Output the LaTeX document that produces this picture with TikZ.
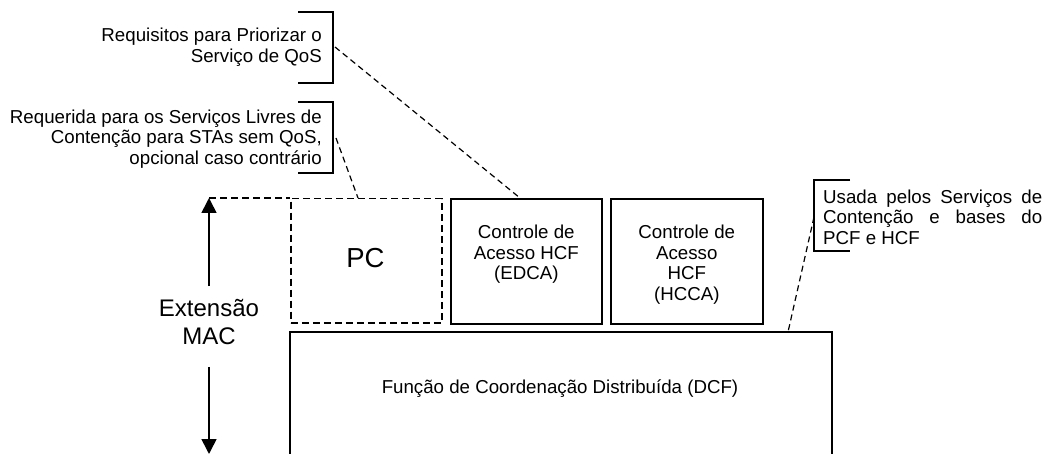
\documentclass[tikz,border=0pt]{standalone}
\usepackage{fontspec}
\setmainfont{Liberation Sans}
\usetikzlibrary{arrows.meta}
\begin{document}
\begin{tikzpicture}[x=1pt,y=-1pt,
  small/.style={font=\fontsize{18.7}{20.5}\selectfont, inner sep=0pt},
  solidbox/.style={draw, line width=1.6pt, inner sep=0pt, anchor=north west},
  dashbox/.style={draw, line width=1.5pt, dash pattern=on 7pt off 4pt, inner sep=0pt, anchor=north west},
  conn/.style={line width=1.2pt, dash pattern=on 6pt off 4pt},
  brk/.style={line width=1.6pt},
  arr/.style={line width=1.6pt, -{Triangle[width=15pt,length=15pt]}}]
\useasboundingbox (0,0) rectangle (1044,454);

% boxes
\node[dashbox, minimum width=151pt, minimum height=124pt] (pc) at (290,198) {};
\node[font=\fontsize{27.5}{30}\selectfont, inner sep=0pt] (pct) at (365.5,258) {PC};
\node[solidbox, minimum width=151pt, minimum height=125pt] (edca) at (450,198) {};
\node[solidbox, minimum width=152pt, minimum height=125pt] (hcca) at (610,198) {};
\node[small, align=center, anchor=north] (edcat) at ([yshift=-27pt]edca.north) {Controle de\\Acesso HCF\\(EDCA)};
\node[small, align=center, anchor=north] (hccat) at ([yshift=-27pt]hcca.north) {Controle de\\Acesso\\HCF\\(HCCA)};

% DCF box (open at the bottom)
\coordinate (dcfbl) at (290,454);
\coordinate (dcftl) at (290,332);
\coordinate (dcftr) at (832,332);
\coordinate (dcfbr) at (832,454);
\draw[line width=1.6pt] (dcfbl) -- (dcftl) -- (dcftr) -- (dcfbr);
\node[small] (dcft) at (560,389) {Função de Coordenação Distribuída (DCF)};

% Extensao MAC arrow
\coordinate (arrtop) at (209,198);
\coordinate (arrbot) at (209,454);
\node[font=\fontsize{24}{28}\selectfont, inner sep=0pt, align=center] (ext) at (209,322) {Extensão\\MAC};
\draw[arr] ([yshift=13pt]ext.north) -- (arrtop);
\draw[arr] ([yshift=-22pt]ext.south) -- (arrbot);
\draw[line width=1.5pt, dash pattern=on 7pt off 4pt] (arrtop) -- (pc.north west);

% bracket 1
\draw[brk] (298,12) -- (333,12) -- (333,83) -- (298,83);
\node[small, align=right, anchor=east] (req) at (322,47) {Requisitos para Priorizar o\\Serviço de QoS};
% bracket 2
\draw[brk] (298,102) -- (333,102) -- (333,173) -- (298,173);
\node[small, align=right, anchor=east] (reqd) at (322,139) {Requerida para os Serviços Livres de\\Contenção para STAs sem QoS,\\opcional caso contrário};
% bracket 3
\draw[brk] (850,180) -- (814,180) -- (814,251) -- (850,251);
\node[small, text width=219pt, align=justify, anchor=west] (usada) at (823,217) {Usada pelos Serviços de\linebreak Contenção e bases do\linebreak PCF e HCF};

% connectors
\coordinate (b1) at (335,47);
\coordinate (b2) at (336,138);
\coordinate (b3) at (814,217);
\coordinate (e1) at (520,198);
\coordinate (p1) at (358,198);
\coordinate (d1) at (788,332);
\draw[conn] (b1) -- (e1);
\draw[conn] (b2) -- (p1);
\draw[conn] (b3) -- (d1);
\end{tikzpicture}
\end{document}
